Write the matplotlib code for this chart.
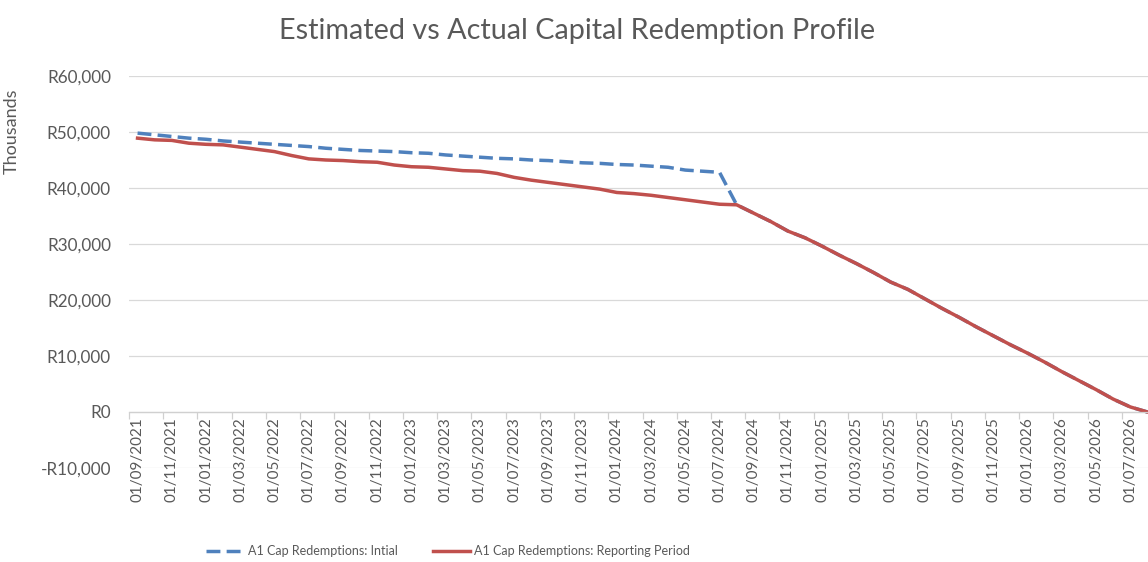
import matplotlib
matplotlib.use("Agg")
import matplotlib.pyplot as plt
from matplotlib.ticker import FixedLocator, FuncFormatter

plt.rcParams['font.family'] = ['Lato', 'DejaVu Sans']

# monthly categories, 01/09/2021 .. 01/08/2026
months = []
for yr in range(2021, 2027):
    for mo in range(1, 13):
        if (yr, mo) < (2021, 9) or (yr, mo) > (2026, 8):
            continue
        months.append(f"01/{mo:02d}/{yr}")

# values in thousands of Rand
reporting = [48900, 48600, 48500, 48000, 47800, 47700, 47300, 46900, 46500, 45800,
             45200, 45000, 44900, 44700, 44600, 44100, 43800, 43700, 43400, 43100,
             43000, 42600, 41900, 41400, 41000, 40600, 40200, 39800, 39200, 39000,
             38700, 38300, 37900, 37500, 37100, 37000, 35500, 34000, 32300, 31100,
             29600, 28000, 26500, 24900, 23200, 21900, 20200, 18500, 16900, 15200,
             13600, 12000, 10500, 8900, 7200, 5600, 4000, 2300, 900, 0]

initial_head = [49800, 49500, 49200, 48900, 48700, 48400, 48200, 48000, 47800, 47600,
                47400, 47100, 46900, 46700, 46600, 46500, 46300, 46200, 45900, 45700,
                45500, 45300, 45200, 45000, 44900, 44700, 44500, 44400, 44200, 44100,
                43900, 43700, 43200, 43000, 42800]
# after the switch the initial profile follows the reported one
initial = initial_head + reporting[len(initial_head):]

x = list(range(len(months)))

fig = plt.figure(figsize=(11.48, 5.62), dpi=100)
ax = fig.add_axes([129 / 1148, 1 - 468 / 562, (1156 - 129) / 1148, (468 - 76) / 562])

ax.plot(x, initial, color='#4F81BD', lw=2.5, ls=(0, (4, 1.8)), solid_capstyle='butt',
        label='A1 Cap Redemptions: Intial')
ax.plot(x, reporting, color='#C0504D', lw=2.5, solid_joinstyle='round',
        label='A1 Cap Redemptions: Reporting Period')

ax.set_xlim(-0.5, len(months) - 0.5)
ax.set_ylim(-10000, 60000)
ax.set_yticks(range(-10000, 60001, 10000))
ax.yaxis.set_major_formatter(FuncFormatter(
    lambda v, p: f"-R{abs(v):,.0f}" if v < 0 else f"R{v:,.0f}"))
ax.tick_params(axis='y', length=0, labelsize=12.3, labelcolor='#595959', pad=13)
ax.grid(axis='y', color='#d9d9d9', lw=0.9)
ax.set_axisbelow(True)

for s in ['left', 'right', 'top']:
    ax.spines[s].set_visible(False)
ax.spines['bottom'].set_position(('data', 0))
ax.spines['bottom'].set_color('#d0d0d0')
ax.spines['bottom'].set_linewidth(0.9)

# tick marks between categories, labels on every second category
ax.xaxis.set_major_locator(FixedLocator([i - 0.5 for i in range(0, len(months) + 1, 2)]))
ax.xaxis.set_minor_locator(FixedLocator(x[::2]))
ax.xaxis.set_major_formatter(FuncFormatter(lambda v, p: ''))
ax.xaxis.set_minor_formatter(FuncFormatter(lambda v, p: months[int(round(v))]))
ax.tick_params(axis='x', which='major', length=5, color='#d0d0d0', width=0.9)
ax.tick_params(axis='x', which='minor', length=0, pad=4, labelsize=11,
               labelcolor='#595959', labelrotation=90)

ax.set_ylabel('Thousands', fontsize=13, color='#595959')
ax.yaxis.set_label_coords(-0.106, 0.86)

fig.text(577 / 1148, 1 - 31 / 562, 'Estimated vs Actual Capital Redemption Profile',
         ha='center', va='center', fontsize=20.7, color='#595959')

fig.legend(loc='center', bbox_to_anchor=(448 / 1148, 1 - 551 / 562), ncol=2,
           frameon=False, fontsize=9, labelcolor='#595959', handlelength=3.0,
           columnspacing=2.8, handletextpad=0.3)

fig.savefig('out.png', dpi=100)
